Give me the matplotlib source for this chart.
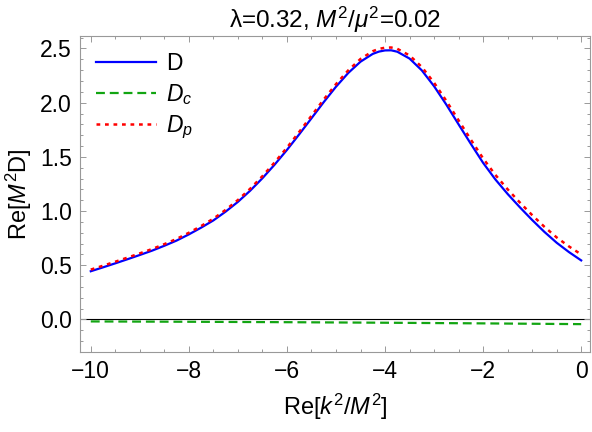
import matplotlib
matplotlib.use("Agg")
import matplotlib.pyplot as plt
from matplotlib.ticker import MultipleLocator, FormatStrFormatter

plt.rcParams['font.family'] = ['Liberation Sans', 'DejaVu Sans']
plt.rcParams['mathtext.fontset'] = 'custom'
plt.rcParams['mathtext.rm'] = 'Liberation Sans'
plt.rcParams['mathtext.it'] = 'Liberation Sans:italic'
plt.rcParams['axes.unicode_minus'] = True

# Data
x_vals = [-10.0, -9.75, -9.5, -9.25, -9.0, -8.75, -8.5, -8.25, -8.0, -7.75, -7.5, -7.25,
          -7.0, -6.75, -6.5, -6.25, -6.0, -5.75, -5.5, -5.25, -5.0, -4.75, -4.5, -4.25,
          -4.125, -4.0, -3.875, -3.75, -3.5, -3.25, -3.0, -2.75, -2.5, -2.25, -2.0, -1.75,
          -1.5, -1.25, -1.0, -0.75, -0.5, -0.25, 0.0]
D_vals = [0.445, 0.481, 0.518, 0.556, 0.595, 0.635, 0.68, 0.728, 0.785, 0.847, 0.914, 0.995,
          1.085, 1.188, 1.303, 1.429, 1.564, 1.708, 1.856, 2.005, 2.147, 2.274, 2.378, 2.450,
          2.471, 2.482, 2.483, 2.470, 2.407, 2.298, 2.152, 1.982, 1.800, 1.620, 1.445, 1.292,
          1.158, 1.035, 0.918, 0.808, 0.708, 0.622, 0.545]
Dp_vals = [0.460, 0.496, 0.533, 0.571, 0.610, 0.650, 0.695, 0.743, 0.800, 0.862, 0.930, 1.011,
           1.102, 1.206, 1.322, 1.449, 1.585, 1.730, 1.879, 2.029, 2.171, 2.298, 2.403, 2.475,
           2.496, 2.507, 2.509, 2.497, 2.436, 2.329, 2.184, 2.017, 1.837, 1.659, 1.486, 1.334,
           1.201, 1.079, 0.963, 0.855, 0.757, 0.674, 0.600]
xc_vals = [-10, -8, -6, -4, -2, 0]
Dc_vals = [-0.018, -0.021, -0.025, -0.030, -0.036, -0.043]

fig = plt.figure(figsize=(5.92, 4.32), dpi=100)
ax = fig.add_axes([80/592, 1-352/432, 510/592, 316/432])

ax.axhline(0, color='black', lw=0.8, zorder=1)
ax.plot(x_vals, D_vals, color='#0000ff', lw=1.6, label='D', zorder=3)
ax.plot(xc_vals, Dc_vals, color='#12a512', lw=1.6, ls=(0, (4, 2.2)), label='$D_c$', zorder=3)
ax.plot(x_vals, Dp_vals, color='#ff0000', lw=1.8, ls=(0, (1.5, 1.9)), label='$D_p$', zorder=4)

ax.set_xlim(-10.22, 0.18)
ax.set_ylim(-0.30, 2.615)
ax.xaxis.set_major_locator(MultipleLocator(2))
ax.xaxis.set_minor_locator(MultipleLocator(0.5))
ax.yaxis.set_major_locator(MultipleLocator(0.5))
ax.yaxis.set_minor_locator(MultipleLocator(0.1))
ax.yaxis.set_major_formatter(FormatStrFormatter('%.1f'))

for s in ax.spines.values():
    s.set_color('#999999')
    s.set_linewidth(0.8)
ax.tick_params(which='both', direction='in', top=True, right=True, color='#999999', width=0.7)
ax.tick_params(which='major', length=4.5, labelsize=16.5, pad=6, labelcolor='black')
ax.tick_params(which='minor', length=2.5)

ax.set_title('λ=0.32, $M^2/\\mu^2$=0.02', fontsize=17.5, pad=6)
ax.set_xlabel('Re[$k^2/M^2$]', fontsize=17, labelpad=6)
ax.set_ylabel('Re[$M^2$D]', fontsize=17, labelpad=4)

leg = ax.legend(loc='upper left', frameon=False, fontsize=16.5, handlelength=2.6,
                handletextpad=0.45, labelspacing=0.3, borderaxespad=0.3,
                bbox_to_anchor=(0.0, 1.0))

fig.savefig('out.png', dpi=100)
